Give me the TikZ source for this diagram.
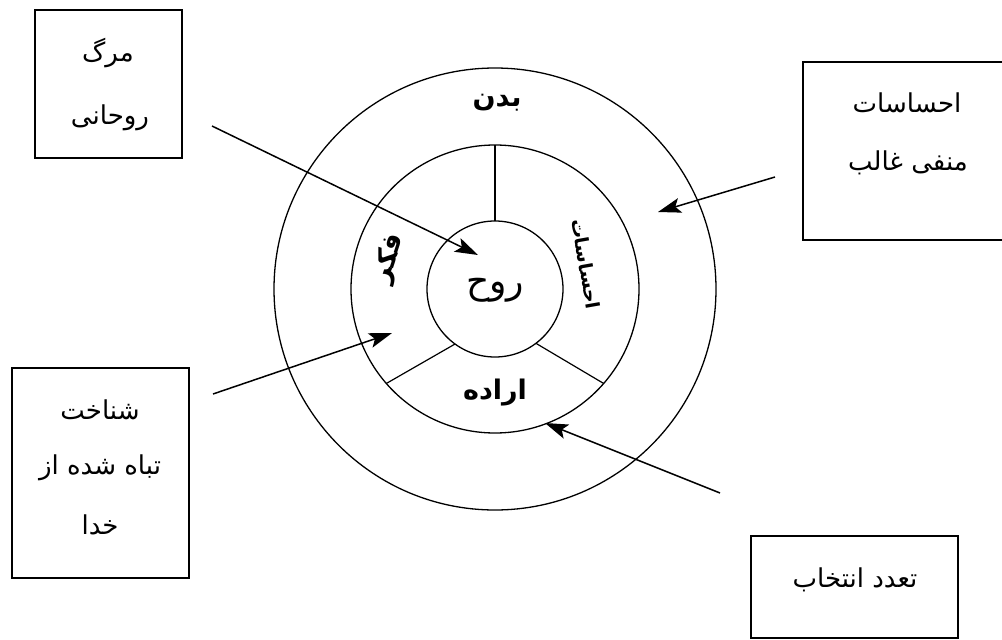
\documentclass[tikz,border=0pt]{standalone}
\usepackage{fontspec}
\usepackage{tikz}
\usetikzlibrary{arrows.meta}
\TeXXeTstate=1
\newfontfamily\farsi[Script=Arabic]{DejaVu Sans}
\newcommand{\fa}[1]{\farsi\beginR #1\endR}

\tikzset{
  ring/.style={draw, circle, line width=1.3pt, inner sep=0pt, outer sep=0pt},
  box/.style={draw, line width=1.7pt, inner sep=0pt, outer sep=0pt},
  boxtext/.style={font=\fontsize{26}{28}\selectfont, inner sep=1pt},
  ringtext/.style={font=\bfseries\fontsize{27}{29}\selectfont, inner sep=1pt},
  flow/.style={-{Stealth[length=23pt,width=15pt,inset=5pt]}, line width=1.5pt}
}

\begin{document}
\begin{tikzpicture}[x=1pt, y=-1pt]
  \useasboundingbox (0,0) rectangle (1002,640);
  % rings
  \node[ring, minimum size=442pt] (outer) at (495,289) {};
  \node[ring, minimum size=288pt] (middle) at (495,289) {};
  \node[ring, minimum size=136pt] (inner) at (495,289) {};
  \draw[line width=1.2pt] (inner.90) -- (middle.90);
  \draw[line width=1.2pt] (inner.234) -- (middle.221);
  \draw[line width=1.2pt] (inner.307) -- (middle.319);
  \node[ringtext] (body) at (497,103) {\fa{بدن}};
  \node[font=\fontsize{36}{38}\selectfont, inner sep=1pt] (spirit) at (495,290) {\fa{روح}};
  \node[ringtext] (will) at (495,393) {\fa{اراده}};
  \node[ringtext, rotate=72] (mind) at (389,258) {\fa{فکر}};
  \node[ringtext, font=\bfseries\fontsize{19}{21}\selectfont, rotate=-80] (emotion) at (586,264) {\fa{احساسات}};
  % boxes
  \node[box, minimum width=147pt, minimum height=148pt] (deathbox) at (108.5,84) {};
  \node[boxtext] (death1) at (108,53) {\fa{مرگ}};
  \node[boxtext] (death2) at (110,118) {\fa{روحانی}};
  \node[box, minimum width=207pt, minimum height=178pt] (feelbox) at (906.5,151) {};
  \node[boxtext] (feel1) at (907,103) {\fa{احساسات}};
  \node[boxtext] (feel2) at (908,163) {\fa{منفی غالب}};
  \node[box, minimum width=177pt, minimum height=210pt] (knowbox) at (100.5,473) {};
  \node[boxtext] (know1) at (100,410) {\fa{شناخت}};
  \node[boxtext] (know2) at (100,468) {\fa{تباه شده از}};
  \node[boxtext] (know3) at (100,525) {\fa{خدا}};
  \node[box, minimum width=207pt, minimum height=102pt] (choicebox) at (854.5,587) {};
  \node[boxtext] (choice1) at (855,580) {\fa{تعدد انتخاب}};
  % arrows
  \coordinate (deathtail) at (212,126);
  \coordinate (deathtip) at (478,255);
  \coordinate (feeltail) at (775,177);
  \coordinate (feeltip) at (658,212);
  \coordinate (knowtail) at (213,394);
  \coordinate (knowtip) at (392,333);
  \coordinate (choicetail) at (720,493);
  \coordinate (choicetip) at (545,423);
  \draw[flow] (deathtail) -- (deathtip);
  \draw[flow] (feeltail) -- (feeltip);
  \draw[flow] (knowtail) -- (knowtip);
  \draw[flow] (choicetail) -- (choicetip);
\end{tikzpicture}
\end{document}
